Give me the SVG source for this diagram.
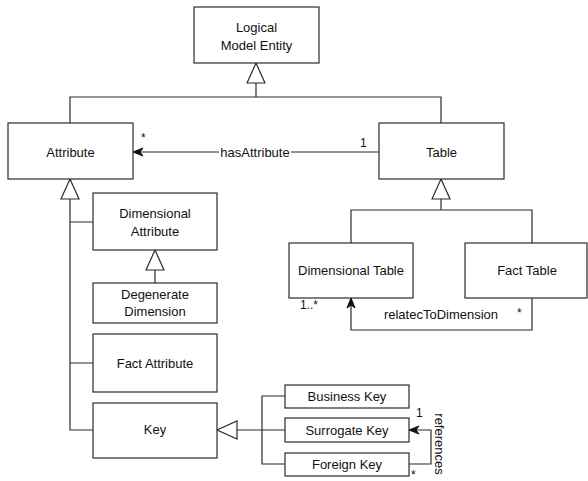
<svg xmlns="http://www.w3.org/2000/svg" width="588" height="481" viewBox="0 0 588 481">
  <style>
    .box { fill: #ffffff; stroke: #2b2b2b; stroke-width: 1.2; }
    .lbl { font-family: "Liberation Sans", Arial, sans-serif; font-size: 13px; fill: #111; text-anchor: middle; }
    .mult { font-family: "Liberation Sans", Arial, sans-serif; font-size: 12px; fill: #111; }
    .edge { fill: none; stroke: #2b2b2b; stroke-width: 1.2; }
    .gen { marker-end: url(#hollow); }
    .assoc { marker-end: url(#classic); }
  </style>
  <defs>
    <!-- hollow triangle for generalization -->
    <marker id="hollow" markerUnits="userSpaceOnUse" markerWidth="22" markerHeight="20" viewBox="-1 -1 22 20" refX="20" refY="9" orient="auto">
      <path d="M0,0 L20,9 L0,18 Z" fill="#ffffff" stroke="#2b2b2b" stroke-width="1.2"/>
    </marker>
    <!-- filled notched arrow for associations -->
    <marker id="classic" markerUnits="userSpaceOnUse" markerWidth="12" markerHeight="10" viewBox="0 0 12 10" refX="11" refY="5" orient="auto">
      <path d="M1,1 L11,5 L1,9 L4,5 Z" fill="#111" stroke="#111" stroke-width="1"/>
    </marker>
  </defs>

  <g id="connectors">
    <!-- generalization: Attribute, Table -> Logical Model Entity -->
    <path class="edge" d="M70,123 V97 H441 V123"/>
    <path class="edge gen" d="M256,97 V63"/>
    <!-- generalization: Dimensional Table, Fact Table -> Table -->
    <path class="edge" d="M351,243 V210 H532 V243"/>
    <path class="edge gen" d="M441,210 V179"/>
    <!-- generalization: subtypes -> Attribute -->
    <path class="edge" d="M93,222 H70 M93,363 H70 M93,430 H70 V200"/>
    <path class="edge gen" d="M70,200 V179"/>
    <!-- generalization: Degenerate Dimension -> Dimensional Attribute -->
    <path class="edge gen" d="M155,283 V250"/>
    <!-- generalization: key kinds -> Key -->
    <path class="edge" d="M285,396 H262 V464 H285 M262,430 H285"/>
    <path class="edge gen" d="M262,430 H217"/>

    <!-- association: hasAttribute -->
    <path class="edge assoc" d="M379,152 H133"/>
    <rect x="219" y="144" width="72" height="15" fill="#ffffff"/>
    <text class="lbl" x="255" y="156.5">hasAttribute</text>
    <text class="mult" x="141" y="142">*</text>
    <text class="mult" x="360" y="147">1</text>

    <!-- association: relatedToDimension -->
    <path class="edge assoc" d="M532,298 V330 H351 V298"/>
    <text class="lbl" x="441" y="318.5">relatecToDimension</text>
    <text class="mult" x="300" y="309">1..*</text>
    <text class="mult" x="517" y="317">*</text>

    <!-- association: references -->
    <path class="edge assoc" d="M409,464 H431 V430 H409"/>
    <text class="lbl" transform="translate(435,444) rotate(90)" x="0" y="0">references</text>
    <text class="mult" x="416" y="417">1</text>
    <text class="mult" x="411" y="479">*</text>
  </g>

  <g id="logical-model-entity">
    <rect class="box" x="194" y="7" width="125" height="56"/>
    <text class="lbl" x="256.5" y="31.5">Logical</text>
    <text class="lbl" x="256.5" y="49.5">Model Entity</text>
  </g>

  <g id="attribute">
    <rect class="box" x="8" y="123" width="125" height="56"/>
    <text class="lbl" x="70.5" y="156.5">Attribute</text>
  </g>

  <g id="table">
    <rect class="box" x="379" y="123" width="125" height="56"/>
    <text class="lbl" x="441.5" y="156.5">Table</text>
  </g>

  <g id="dimensional-table">
    <rect class="box" x="289" y="243" width="124" height="55"/>
    <text class="lbl" x="351" y="274.5">Dimensional Table</text>
  </g>

  <g id="fact-table">
    <rect class="box" x="465" y="243" width="122" height="55"/>
    <text class="lbl" x="527" y="274.5">Fact Table</text>
  </g>

  <g id="dimensional-attribute">
    <rect class="box" x="93" y="193" width="124" height="57"/>
    <text class="lbl" x="155" y="217.5">Dimensional</text>
    <text class="lbl" x="155" y="235.5">Attribute</text>
  </g>

  <g id="degenerate-dimension">
    <rect class="box" x="93" y="283" width="124" height="40"/>
    <text class="lbl" x="155" y="298.5">Degenerate</text>
    <text class="lbl" x="155" y="315.5">Dimension</text>
  </g>

  <g id="fact-attribute">
    <rect class="box" x="93" y="334" width="124" height="58"/>
    <text class="lbl" x="155" y="367.5">Fact Attribute</text>
  </g>

  <g id="key">
    <rect class="box" x="93" y="403" width="124" height="55"/>
    <text class="lbl" x="155" y="434">Key</text>
  </g>

  <g id="business-key">
    <rect class="box" x="285" y="385" width="124" height="23"/>
    <text class="lbl" x="347" y="401">Business Key</text>
  </g>

  <g id="surrogate-key">
    <rect class="box" x="285" y="418" width="124" height="24"/>
    <text class="lbl" x="347" y="434.5">Surrogate Key</text>
  </g>

  <g id="foreign-key">
    <rect class="box" x="285" y="453" width="124" height="23"/>
    <text class="lbl" x="347" y="469">Foreign Key</text>
  </g>
</svg>
